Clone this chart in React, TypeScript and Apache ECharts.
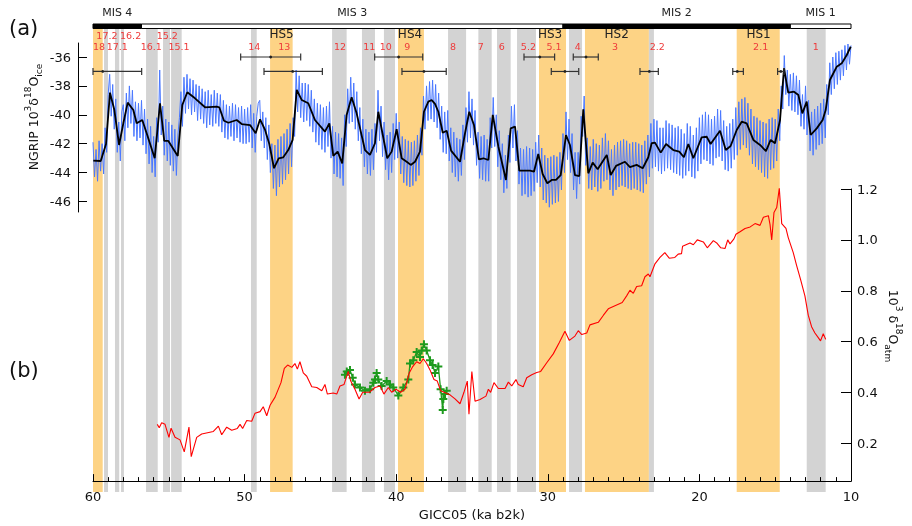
import React, { useEffect, useRef } from 'react';
import * as echarts from 'echarts';

// ---------- DATA ----------
// Shaded intervals [older ka, younger ka]; kind: 'hs' (Heinrich stadial, orange) or 'gi' (interstadial, grey)
const bandSpans: [number, number][] = [
  [60.0, 59.36], [59.27, 59.01], [58.55, 58.27], [58.15, 57.96], [56.5, 55.73], [55.38, 54.92],
  [54.85, 54.15], [49.58, 49.2], [48.32, 46.83], [44.23, 43.27], [42.26, 41.4], [40.81, 40.08],
  [39.88, 38.17], [36.58, 35.39], [34.58, 33.7], [33.35, 32.45], [32.03, 30.78], [30.58, 28.8],
  [28.6, 27.74], [27.55, 23.33], [23.33, 23.0], [17.54, 14.7], [12.92, 11.67],
];
const bandKinds: string[] = [
  'hs', 'gi', 'gi', 'gi', 'gi', 'gi',
  'gi', 'gi', 'hs', 'gi', 'gi', 'gi',
  'hs', 'gi', 'gi', 'gi', 'gi', 'hs',
  'gi', 'hs', 'gi', 'hs', 'gi',
];

// Interstadial number labels (ages, ka)
const giUpperNames = ['17.2', '16.2', '15.2'];
const giUpperAges = [59.08, 57.52, 55.1];
const giLowerNames = ['18', '17.1', '16.1', '15.1', '14', '13', '12', '11', '10', '9', '8', '7', '6', '5.2', '5.1', '4', '3', '2.2', '2.1', '1'];
const giLowerAges = [59.6, 58.4, 56.16, 54.33, 49.36, 47.38, 43.7, 41.77, 40.69, 39.27, 36.26, 34.43, 33.04, 31.28, 29.59, 28.03, 25.57, 22.78, 15.96, 12.33];
const hsNames = ['HS5', 'HS4', 'HS3', 'HS2', 'HS1'];
const hsAges = [47.56, 39.09, 29.85, 25.46, 16.1];

// Marine isotope stages [older, younger]
const misNames = ['MIS 4', 'MIS 3', 'MIS 2', 'MIS 1'];
const misSpans: [number, number][] = [[60, 56.8], [56.8, 29.0], [29.0, 14.0], [14.0, 10]];
const misFilled = [true, false, true, false];

// Dating uncertainty bars: [center, older end, younger end]
const errRow1: [number, number, number][] = [
  [48.28, 50.26, 46.3], [39.84, 41.42, 38.25], [30.53, 31.57, 29.55], [27.48, 28.32, 26.67],
];
const errRow2: [number, number, number][] = [
  [59.36, 60.0, 56.79], [46.83, 48.72, 44.87], [38.17, 39.62, 36.7], [28.87, 29.77, 27.96],
  [23.3, 23.92, 22.71], [17.5, 17.8, 17.1], [14.63, 14.84, 14.42],
];
const errRow1Level = -36;
const errRow2Level = -37;

// NGRIP d18O raw record, sampled every 0.1 ka from 60 ka to 10 ka
const ngripStart = 60;
const ngripStep = 0.1;
const ngripRaw = [
  -41.9, -44.3, -42.4, -44.6, -41.8, -43.9, -42.0, -44.1, -40.9, -42.6, -38.6, -37.2, -40.1, -37.9, -41.0, -38.9, -42.6, -40.5, -43.2, -39.8,
  -39.3, -41.8, -38.5, -40.9, -38.0, -40.6, -38.3, -41.5, -39.1, -41.8, -39.2, -41.6, -39.0, -42.1, -39.6, -42.7, -40.3, -43.4, -40.8, -44.0,
  -41.5, -44.3, -40.2, -41.9, -36.9, -41.4, -39.4, -42.8, -40.3, -43.2, -40.5, -43.5, -40.7, -43.9, -41.0, -44.2, -41.4, -40.2, -38.4, -40.8,
  -37.4, -39.9, -37.2, -39.6, -37.5, -40.0, -37.6, -39.8, -37.9, -40.4, -38.0, -40.3, -38.2, -40.6, -38.4, -40.9, -38.3, -40.7, -38.6, -40.8,
  -38.3, -40.6, -38.5, -40.8, -38.6, -41.2, -39.0, -41.6, -39.3, -41.7, -39.4, -41.5, -39.2, -41.8, -39.3, -41.6, -39.5, -41.9, -39.4, -42.0,
  -39.6, -42.0, -39.5, -41.9, -39.3, -42.3, -39.9, -42.6, -40.1, -39.2, -39.0, -41.8, -39.8, -42.3, -40.2, -43.1, -40.7, -44.0, -42.0, -45.1,
  -42.1, -45.6, -41.7, -45.0, -41.5, -44.8, -41.3, -44.5, -41.0, -44.1, -40.6, -43.6, -40.2, -41.5, -36.9, -39.8, -37.3, -40.2, -37.8, -40.5,
  -37.8, -40.4, -37.9, -40.8, -38.3, -41.2, -38.9, -41.9, -39.2, -42.1, -39.3, -42.4, -39.5, -42.6, -39.4, -42.2, -39.1, -43.0, -40.8, -44.1,
  -41.2, -44.3, -41.3, -44.4, -41.6, -44.9, -40.0, -42.2, -38.2, -40.6, -37.4, -40.5, -37.8, -41.0, -38.4, -41.8, -39.5, -42.7, -40.3, -43.6,
  -41.0, -44.1, -41.2, -44.2, -41.0, -43.8, -40.6, -42.6, -38.3, -41.8, -39.4, -42.9, -40.5, -43.8, -41.4, -44.5, -41.2, -44.0, -40.6, -43.1,
  -39.9, -43.0, -40.5, -44.1, -41.5, -44.7, -41.7, -44.9, -41.8, -45.0, -41.9, -44.9, -41.8, -44.6, -41.4, -44.2, -40.9, -42.8, -38.7, -41.0,
  -38.0, -40.4, -37.7, -40.3, -37.6, -40.5, -37.9, -40.9, -38.5, -41.7, -39.4, -42.6, -39.8, -42.7, -39.7, -43.2, -40.9, -44.0, -41.2, -44.3,
  -41.6, -44.6, -41.7, -44.2, -40.7, -43.1, -39.5, -41.9, -38.4, -41.6, -38.9, -42.1, -39.7, -43.5, -41.2, -44.4, -41.5, -44.5, -41.4, -44.6,
  -41.7, -44.6, -40.2, -42.3, -38.8, -42.2, -40.0, -43.6, -41.1, -44.5, -42.0, -45.4, -42.8, -45.1, -41.4, -43.3, -39.4, -42.3, -39.3, -43.2,
  -41.1, -44.8, -42.3, -45.6, -42.4, -45.5, -42.2, -45.7, -42.3, -45.6, -42.4, -45.3, -41.9, -44.7, -41.4, -45.0, -42.3, -45.9, -42.8, -46.1,
  -43.0, -46.4, -42.9, -46.2, -42.8, -46.1, -42.9, -46.0, -42.6, -45.2, -41.3, -44.0, -39.8, -43.1, -40.3, -44.0, -41.3, -45.2, -42.6, -45.8,
  -42.6, -44.8, -40.1, -41.5, -38.7, -43.5, -41.6, -45.1, -42.2, -45.2, -41.7, -45.0, -42.0, -45.3, -42.1, -45.1, -41.6, -44.6, -41.3, -44.5,
  -41.8, -45.2, -42.4, -45.6, -42.1, -45.2, -41.9, -45.0, -41.8, -44.9, -41.7, -45.0, -41.8, -45.1, -42.0, -45.2, -41.9, -45.1, -41.9, -45.2,
  -42.0, -45.3, -42.1, -45.4, -41.8, -44.8, -41.4, -44.3, -40.6, -43.7, -40.3, -43.6, -40.4, -43.9, -40.9, -44.1, -40.9, -43.9, -40.4, -43.7,
  -40.6, -43.8, -40.7, -44.0, -40.9, -44.1, -40.8, -44.2, -41.0, -44.4, -41.3, -44.2, -40.6, -43.9, -40.8, -44.3, -41.4, -44.4, -40.9, -43.9,
  -40.2, -43.4, -40.0, -43.1, -39.8, -43.2, -40.0, -43.4, -40.3, -43.5, -40.1, -43.0, -39.6, -42.9, -39.7, -43.2, -40.4, -43.8, -40.8, -43.9,
  -40.6, -43.7, -40.3, -43.1, -39.5, -42.8, -39.1, -42.4, -38.9, -42.1, -38.8, -42.3, -39.2, -42.8, -39.6, -43.4, -40.1, -43.6, -40.2, -43.8,
  -40.4, -44.0, -40.5, -44.3, -40.6, -44.4, -40.3, -43.8, -40.2, -43.7, -40.3, -43.2, -39.6, -41.8, -38.0, -39.6, -35.9, -38.6, -36.9, -39.4,
  -37.2, -39.7, -37.1, -39.8, -37.3, -40.0, -37.6, -40.8, -38.6, -41.0, -38.0, -41.4, -39.0, -42.5, -39.8, -42.8, -39.6, -42.4, -39.4, -42.1,
  -39.2, -42.0, -38.9, -41.6, -37.9, -40.0, -36.4, -38.6, -36.0, -38.2, -35.7, -37.9, -35.6, -37.6, -35.5, -37.3, -35.2, -36.9, -35.1, -36.5,
  -35.2,
];

// NGRIP smoothed record [ka, d18O]
const ngripSmooth: [number, number][] = [
  [59.98, -43.18], [59.49, -43.2], [59.14, -42.02], [58.88, -38.47], [58.59, -39.67], [58.28, -42.09], [58.0, -40.59],
  [57.71, -39.16], [57.34, -39.67], [57.12, -40.59], [56.75, -40.36], [56.46, -41.28], [55.93, -43.01], [55.58, -39.2],
  [55.3, -41.81], [55.03, -41.81], [54.41, -42.85], [54.11, -39.32], [53.78, -38.44], [53.27, -38.86], [52.61, -39.48],
  [51.84, -39.44], [51.67, -39.48], [51.36, -40.41], [51.07, -40.55], [50.52, -40.36], [50.19, -40.64], [49.64, -40.71],
  [49.27, -41.28], [48.98, -40.31], [48.65, -41.05], [48.37, -42.02], [48.06, -43.7], [47.75, -43.01], [47.45, -42.94],
  [47.12, -42.44], [46.83, -41.74], [46.56, -38.28], [46.23, -38.98], [45.8, -39.2], [45.36, -40.36], [44.7, -41.17],
  [44.41, -40.59], [44.15, -42.85], [43.86, -42.55], [43.56, -43.36], [43.27, -40.01], [42.94, -38.79], [42.61, -39.9],
  [42.06, -42.44], [41.73, -42.78], [41.4, -41.97], [41.18, -39.79], [40.59, -43.01], [40.3, -42.55], [39.97, -41.0],
  [39.64, -43.01], [39.31, -43.25], [39.04, -43.47], [38.76, -43.25], [38.43, -42.55], [38.17, -39.79], [37.88, -39.09],
  [37.66, -38.98], [37.44, -39.25], [37.22, -39.79], [36.93, -41.24], [36.67, -41.1], [36.38, -42.48], [35.79, -43.25],
  [35.46, -41.28], [35.18, -39.79], [34.87, -40.71], [34.54, -43.08], [34.25, -43.01], [33.92, -43.13], [33.63, -40.01],
  [33.26, -42.21], [32.76, -44.51], [32.45, -40.94], [32.16, -40.82], [31.88, -43.87], [31.17, -43.87], [30.91, -43.94],
  [30.63, -42.71], [30.34, -44.1], [30.03, -44.74], [29.74, -44.51], [29.46, -44.51], [29.15, -44.17], [28.8, -41.4],
  [28.54, -42.09], [28.21, -44.17], [27.92, -44.24], [27.66, -39.62], [27.33, -44.05], [27.04, -43.31], [26.71, -43.77],
  [26.11, -42.78], [25.85, -44.17], [25.5, -43.54], [24.91, -43.25], [24.58, -43.63], [24.14, -43.47], [23.74, -43.7],
  [23.37, -42.94], [23.15, -41.97], [22.93, -41.93], [22.55, -42.62], [22.2, -42.02], [21.72, -42.44], [21.33, -42.55],
  [21.02, -42.94], [20.73, -42.02], [20.4, -43.01], [19.85, -41.56], [19.52, -41.52], [19.26, -42.02], [18.64, -41.1],
  [18.26, -42.44], [17.94, -42.16], [17.54, -41.05], [17.21, -40.48], [16.88, -40.59], [16.44, -41.74], [16.0, -42.09],
  [15.61, -42.51], [15.3, -41.74], [15.01, -41.97], [14.68, -40.36], [14.42, -36.78], [14.14, -38.47], [13.76, -38.4],
  [13.47, -38.63], [13.21, -39.9], [12.92, -39.09], [12.66, -41.4], [12.26, -40.94], [11.87, -40.36], [11.67, -39.67],
  [11.39, -37.59], [10.94, -36.67], [10.61, -36.44], [10.28, -35.86], [10.02, -35.29],
];

// Atmospheric d18O (red) [ka, permil]
const d18Oatm: [number, number][] = [
  [55.76, 0.275], [55.63, 0.262], [55.47, 0.281], [55.25, 0.275], [54.99, 0.224], [54.85, 0.26], [54.59, 0.224],
  [54.26, 0.214], [53.98, 0.167], [53.67, 0.264], [53.52, 0.148], [53.16, 0.224], [52.83, 0.237], [52.06, 0.247],
  [51.73, 0.268], [51.51, 0.234], [51.18, 0.264], [50.85, 0.252], [50.48, 0.259], [50.3, 0.275], [50.13, 0.259],
  [49.86, 0.29], [49.53, 0.287], [49.31, 0.319], [48.98, 0.325], [48.77, 0.344], [48.54, 0.309], [48.32, 0.35],
  [47.99, 0.382], [47.6, 0.439], [47.38, 0.495], [47.16, 0.508], [46.89, 0.499], [46.68, 0.514], [46.52, 0.492],
  [46.35, 0.521], [46.13, 0.477], [45.9, 0.464], [45.57, 0.423], [45.24, 0.42], [44.91, 0.407], [44.7, 0.432],
  [44.54, 0.394], [44.15, 0.398], [43.92, 0.394], [43.71, 0.426], [43.44, 0.432], [43.16, 0.483], [43.0, 0.445],
  [42.72, 0.413], [42.45, 0.375], [42.21, 0.401], [41.77, 0.401], [41.4, 0.42], [41.07, 0.426], [40.81, 0.394],
  [40.52, 0.42], [40.3, 0.401], [40.01, 0.413], [39.71, 0.401], [39.42, 0.413], [39.14, 0.477], [38.91, 0.502],
  [38.65, 0.521], [38.43, 0.514], [38.21, 0.533], [37.99, 0.514], [37.77, 0.489], [37.51, 0.451], [37.29, 0.445],
  [37.07, 0.407], [36.85, 0.401], [36.45, 0.391], [36.12, 0.375], [35.79, 0.356], [35.53, 0.401], [35.31, 0.445],
  [35.2, 0.315], [35.01, 0.483], [34.8, 0.366], [34.47, 0.373], [34.08, 0.386], [33.92, 0.413], [33.77, 0.401],
  [33.55, 0.439], [33.26, 0.416], [32.82, 0.416], [32.6, 0.441], [32.38, 0.426], [32.1, 0.451], [31.95, 0.432],
  [31.62, 0.423], [31.39, 0.458], [31.06, 0.47], [30.73, 0.479], [30.47, 0.483], [30.07, 0.517], [29.64, 0.552],
  [29.24, 0.597], [28.87, 0.641], [28.58, 0.605], [28.21, 0.622], [27.99, 0.643], [27.76, 0.628], [27.43, 0.634],
  [27.22, 0.666], [26.67, 0.676], [26.33, 0.704], [26.01, 0.729], [25.09, 0.754], [24.8, 0.78], [24.58, 0.802],
  [24.36, 0.79], [24.14, 0.817], [23.81, 0.82], [23.59, 0.855], [23.37, 0.866], [23.26, 0.855], [22.93, 0.906],
  [22.6, 0.931], [22.28, 0.95], [21.99, 0.928], [21.62, 0.931], [21.4, 0.944], [21.18, 0.946], [21.11, 0.975],
  [20.62, 0.988], [20.4, 0.981], [20.14, 1.0], [19.74, 0.992], [19.48, 0.969], [19.08, 0.997], [18.86, 0.988],
  [18.59, 0.969], [18.31, 0.966], [18.13, 1.0], [17.98, 0.984], [17.72, 1.004], [17.59, 1.022], [17.32, 1.032],
  [16.99, 1.045], [16.65, 1.051], [16.33, 1.064], [16.0, 1.057], [15.78, 1.089], [15.45, 1.095], [15.34, 1.06],
  [15.23, 1.0], [15.08, 1.108], [14.9, 1.127], [14.73, 1.203], [14.57, 1.064], [14.29, 1.045], [14.14, 1.009],
  [13.81, 0.95], [13.59, 0.9], [13.32, 0.843], [13.04, 0.78], [12.82, 0.704], [12.6, 0.659], [12.38, 0.634],
  [12.16, 0.616], [12.01, 0.603], [11.83, 0.631], [11.67, 0.609],
];

// Second d18Oatm record (green, with crosses) [ka, permil]
const d18OatmHiRes: [number, number][] = [
  [43.38, 0.47], [43.26, 0.483], [43.05, 0.489], [42.87, 0.458], [42.72, 0.432], [42.39, 0.42], [42.06, 0.407],
  [41.73, 0.413], [41.51, 0.439], [41.4, 0.451], [41.29, 0.477], [41.18, 0.451], [40.96, 0.426], [40.63, 0.445],
  [40.41, 0.432], [40.19, 0.42], [39.86, 0.388], [39.53, 0.42], [39.2, 0.451], [39.09, 0.514], [38.87, 0.527],
  [38.65, 0.559], [38.43, 0.54], [38.32, 0.565], [38.17, 0.59], [37.99, 0.565], [37.77, 0.527], [37.6, 0.508],
  [37.44, 0.477], [37.22, 0.502], [37.07, 0.413], [36.93, 0.331], [36.89, 0.375], [36.78, 0.394], [36.67, 0.407],
];

const ngripTicks = [-46, -44, -42, -40, -38, -36];
const atmTicks = [0.2, 0.4, 0.6, 0.8, 1.0, 1.2];

// ---------- STYLE ----------
const FONT = 'DejaVu Sans';
const ORANGE = '#fdd385';
const GREY = '#d3d3d3';
const BLUE = '#4a78ff';
const RED_LABEL = '#ee3a3a';

export default function App() {
  const ref = useRef<HTMLDivElement>(null);

  useEffect(() => {
    if (!ref.current) return;
    const chart = echarts.init(ref.current, null, { renderer: 'svg' });

    const ngripRawData = ngripRaw.map((v, i) => [Math.round((ngripStart - i * ngripStep) * 10) / 10, v]);

    const labelItems: { text: string; age: number; row: number; kind: string }[] = [];
    giUpperNames.forEach((t, i) => labelItems.push({ text: t, age: giUpperAges[i], row: 35.5, kind: 'gi' }));
    giLowerNames.forEach((t, i) => labelItems.push({ text: t, age: giLowerAges[i], row: 46.8, kind: 'gi' }));
    hsNames.forEach((t, i) => labelItems.push({ text: t, age: hsAges[i], row: 33.5, kind: 'hs' }));
    misNames.forEach((t, i) => labelItems.push({ text: t, age: (misSpans[i][0] + misSpans[i][1]) / 2, row: 12, kind: 'mis' }));

    const errAll = [
      ...errRow1.map((e) => [e[0], e[1], e[2], errRow1Level]),
      ...errRow2.map((e) => [e[0], e[1], e[2], errRow2Level]),
    ];

    const axisLineStyle = { color: '#000', width: 1 };
    const richStyles = {
      m: { fontFamily: FONT, fontSize: 12.5, fill: '#111', lineHeight: 20 },
      s: { fontFamily: FONT, fontSize: 9, fill: '#111', lineHeight: 10, verticalAlign: 'top' },
      b: { fontFamily: FONT, fontSize: 9, fill: '#111', lineHeight: 10, verticalAlign: 'bottom' },
    };

    const option: any = {
      animation: false,
      grid: [
        { left: 93, right: 61, top: 0, height: 492 },
        { left: 93, right: 61, top: 43, height: 169 },
        { left: 93, right: 61, top: 189, height: 303 },
      ],
      xAxis: [
        { gridIndex: 0, type: 'value', min: 10, max: 60, inverse: true, show: false },
        { gridIndex: 1, type: 'value', min: 10, max: 60, inverse: true, show: false },
        {
          gridIndex: 2, type: 'value', min: 10, max: 60, inverse: true, interval: 10,
          axisLine: { show: true, onZero: false, lineStyle: axisLineStyle },
          axisTick: { show: true, inside: true, length: 7, lineStyle: axisLineStyle },
          minorTick: { show: true, splitNumber: 10, length: 4, lineStyle: axisLineStyle },
          splitLine: { show: false },
          axisLabel: { fontFamily: FONT, fontSize: 13, color: '#111', margin: 9 },
          name: 'GICC05 (ka b2k)', nameLocation: 'middle', nameGap: 25,
          nameTextStyle: { fontFamily: FONT, fontSize: 13, color: '#111' },
        },
      ],
      yAxis: [
        { gridIndex: 0, type: 'value', min: 0, max: 492, inverse: true, show: false },
        {
          gridIndex: 1, type: 'value', min: -46.73, max: -35.03, position: 'left', offset: 15,
          axisLine: { show: true, onZero: false, lineStyle: axisLineStyle },
          axisTick: { show: true, inside: true, length: 9, customValues: ngripTicks, lineStyle: axisLineStyle },
          axisLabel: { customValues: ngripTicks, fontFamily: FONT, fontSize: 13, color: '#111', margin: 7 },
          splitLine: { show: false },
        },
        {
          gridIndex: 2, type: 'value', min: 0.052, max: 1.2, position: 'right',
          axisLine: { show: true, onZero: false, lineStyle: axisLineStyle },
          axisTick: { show: true, inside: true, length: 10, customValues: atmTicks, lineStyle: axisLineStyle },
          axisLabel: {
            customValues: atmTicks, fontFamily: FONT, fontSize: 13, color: '#111', margin: 6,
            formatter: (v: number) => v.toFixed(1),
          },
          splitLine: { show: false },
        },
      ],
      series: [
        {
          type: 'custom', name: 'bands', xAxisIndex: 0, yAxisIndex: 0, z: 0, silent: true,
          data: bandSpans.map((b) => [b[0], b[1]]),
          renderItem: (params: any, api: any) => {
            const p0 = api.coord([api.value(0), 28]);
            const p1 = api.coord([api.value(1), 492]);
            return {
              type: 'rect',
              shape: { x: p0[0], y: p0[1], width: p1[0] - p0[0], height: p1[1] - p0[1] },
              style: { fill: bandKinds[params.dataIndex] === 'hs' ? ORANGE : GREY },
            };
          },
        },
        {
          type: 'custom', name: 'MIS', xAxisIndex: 0, yAxisIndex: 0, z: 3, silent: true,
          data: misSpans.map((m) => [m[0], m[1]]),
          renderItem: (params: any, api: any) => {
            const p0 = api.coord([api.value(0), 24]);
            const p1 = api.coord([api.value(1), 28.5]);
            const filled = misFilled[params.dataIndex];
            return {
              type: 'rect',
              shape: { x: p0[0], y: p0[1], width: p1[0] - p0[0], height: p1[1] - p0[1] },
              style: { fill: filled ? '#000' : '#fff', stroke: '#000', lineWidth: 1 },
            };
          },
        },
        {
          type: 'custom', name: 'labels', xAxisIndex: 0, yAxisIndex: 0, z: 4, silent: true,
          data: labelItems.map((l) => [l.age, l.row]),
          renderItem: (params: any, api: any) => {
            const item = labelItems[params.dataIndex];
            const p = api.coord([api.value(0), api.value(1)]);
            const isGi = item.kind === 'gi';
            return {
              type: 'text', x: p[0], y: p[1],
              style: {
                text: item.text,
                fill: isGi ? RED_LABEL : '#222',
                fontFamily: FONT,
                fontSize: isGi ? 9.5 : item.kind === 'hs' ? 12 : 11,
                align: 'center', verticalAlign: 'middle',
              },
            };
          },
        },
        {
          type: 'line', name: 'NGRIP', xAxisIndex: 1, yAxisIndex: 1, z: 5, data: ngripRawData,
          showSymbol: false, symbol: 'none', lineStyle: { color: BLUE, width: 1 }, silent: true,
        },
        {
          type: 'line', name: 'NGRIP smooth', xAxisIndex: 1, yAxisIndex: 1, z: 6, data: ngripSmooth,
          showSymbol: false, symbol: 'none', lineStyle: { color: '#000', width: 1.8 }, silent: true,
        },
        {
          type: 'custom', name: 'errors', xAxisIndex: 1, yAxisIndex: 1, z: 7, silent: true,
          data: errAll,
          renderItem: (params: any, api: any) => {
            const c = api.coord([api.value(0), api.value(3)]);
            const a = api.coord([api.value(1), api.value(3)]);
            const b = api.coord([api.value(2), api.value(3)]);
            const st = { stroke: '#333', lineWidth: 1.2 };
            return {
              type: 'group',
              children: [
                { type: 'line', shape: { x1: a[0], y1: c[1], x2: b[0], y2: c[1] }, style: st },
                { type: 'line', shape: { x1: a[0], y1: c[1] - 3.5, x2: a[0], y2: c[1] + 3.5 }, style: st },
                { type: 'line', shape: { x1: b[0], y1: c[1] - 3.5, x2: b[0], y2: c[1] + 3.5 }, style: st },
                { type: 'circle', shape: { cx: c[0], cy: c[1], r: 1.4 }, style: { fill: '#222' } },
              ],
            };
          },
        },
        {
          type: 'line', name: 'd18Oatm hi-res', xAxisIndex: 2, yAxisIndex: 2, z: 8, data: d18OatmHiRes,
          symbol: 'path://M3,0H5V3H8V5H5V8H3V5H0V3H3Z', symbolSize: 8, showSymbol: true,
          itemStyle: { color: '#1e9a1e' }, lineStyle: { color: '#1e9a1e', width: 1.3 }, silent: true,
        },
        {
          type: 'line', name: 'd18Oatm', xAxisIndex: 2, yAxisIndex: 2, z: 9, data: d18Oatm, clip: false,
          showSymbol: false, symbol: 'none', lineStyle: { color: '#ff0000', width: 1.1 }, silent: true,
        },
      ],
      graphic: [
        { type: 'text', left: 9, top: 17, style: { text: '(a)', fontFamily: FONT, fontSize: 21, fill: '#111' } },
        { type: 'text', left: 9, top: 359, style: { text: '(b)', fontFamily: FONT, fontSize: 21, fill: '#111' } },
        {
          type: 'text', x: 33, y: 117, rotation: Math.PI / 2,
          style: {
            text: '{m|NGRIP 10}{s|3}{m|δ}{s|18}{m|O}{b|ice}',
            align: 'center', verticalAlign: 'middle', rich: richStyles,
          },
        },
        {
          type: 'text', x: 893, y: 326, rotation: -Math.PI / 2,
          style: {
            text: '{m|10}{s|3}{m| δ}{s|18}{m|O}{b|atm}',
            align: 'center', verticalAlign: 'middle', rich: richStyles,
          },
        },
      ],
    };

    chart.setOption(option);
    return () => chart.dispose();
  }, []);

  return <div ref={ref} style={{ position: 'fixed', left: 0, top: 0, width: 912, height: 526 }} />;
}
